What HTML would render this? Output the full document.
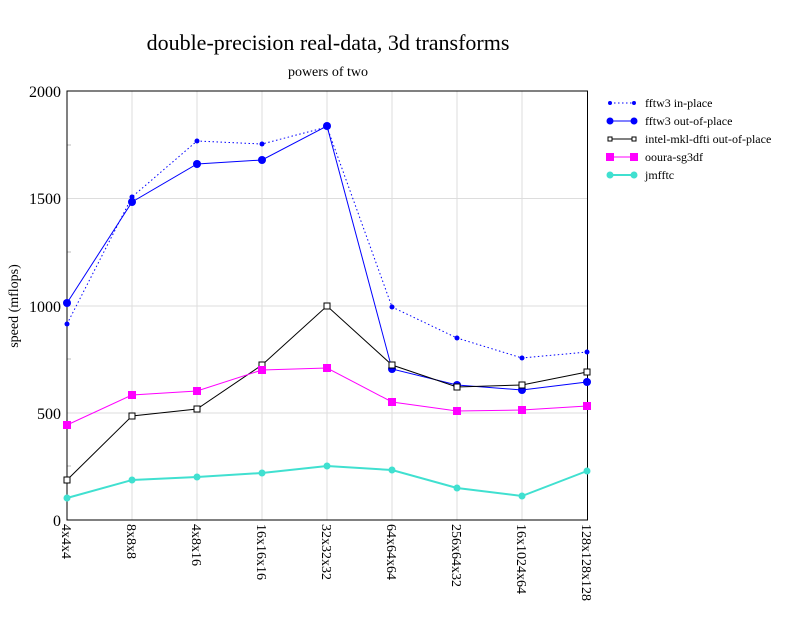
<!DOCTYPE html>
<html><head><style>body{margin:0;background:#fff}</style></head><body>
<svg width="792" height="612" xmlns="http://www.w3.org/2000/svg" font-family="Liberation Serif, serif">
<rect width="792" height="612" fill="#fff"/>
<text x="328" y="50" font-size="22" text-anchor="middle">double-precision real-data, 3d transforms</text>
<text x="328" y="76" font-size="14" text-anchor="middle">powers of two</text>
<g stroke="#ddd" stroke-width="1">
<line x1="67" y1="198.5" x2="587" y2="198.5"/><line x1="67" y1="306" x2="587" y2="306"/><line x1="67" y1="413" x2="587" y2="413"/>
<line x1="132" y1="91" x2="132" y2="520"/><line x1="197" y1="91" x2="197" y2="520"/><line x1="262" y1="91" x2="262" y2="520"/><line x1="327" y1="91" x2="327" y2="520"/><line x1="392" y1="91" x2="392" y2="520"/><line x1="457" y1="91" x2="457" y2="520"/><line x1="522" y1="91" x2="522" y2="520"/>
</g>
<g stroke="#bbb"><line x1="67" y1="145" x2="71" y2="145"/><line x1="67" y1="252" x2="71" y2="252"/><line x1="67" y1="359" x2="71" y2="359"/><line x1="67" y1="466" x2="71" y2="466"/></g>
<rect x="67" y="91" width="520.5" height="429" fill="none" stroke="#000" stroke-width="1"/>
<g font-size="16" text-anchor="end"><text x="61" y="97">2000</text><text x="61" y="204">1500</text><text x="61" y="312">1000</text><text x="61" y="419">500</text><text x="61" y="526">0</text></g>
<text transform="translate(18,306) rotate(-90)" font-size="14" text-anchor="middle">speed (mflops)</text>
<g font-size="14">
<text transform="translate(62,524) rotate(90)">4x4x4</text>
<text transform="translate(127,524) rotate(90)">8x8x8</text>
<text transform="translate(192,524) rotate(90)">4x8x16</text>
<text transform="translate(257,524) rotate(90)">16x16x16</text>
<text transform="translate(322,524) rotate(90)">32x32x32</text>
<text transform="translate(387,524) rotate(90)">64x64x64</text>
<text transform="translate(452,524) rotate(90)">256x64x32</text>
<text transform="translate(517,524) rotate(90)">16x1024x64</text>
<text transform="translate(582,524) rotate(90)">128x128x128</text>
</g>
<polyline fill="none" stroke="#0000ff" stroke-dasharray="1.5,2.5" points="67,324 132,197 197,141 262,144 327,127 392,307 457,338 522,358 587,352"/>
<g fill="#0000ff"><circle cx="67" cy="324" r="2.5"/><circle cx="132" cy="197" r="2.5"/><circle cx="197" cy="141" r="2.5"/><circle cx="262" cy="144" r="2.5"/><circle cx="327" cy="127" r="2.5"/><circle cx="392" cy="307" r="2.5"/><circle cx="457" cy="338" r="2.5"/><circle cx="522" cy="358" r="2.5"/><circle cx="587" cy="352" r="2.5"/></g>
<polyline fill="none" stroke="#0000ff" points="67,303 132,202 197,164 262,160 327,126 392,369 457,385 522,390 587,382"/>
<g fill="#0000ff"><circle cx="67" cy="303" r="4"/><circle cx="132" cy="202" r="4"/><circle cx="197" cy="164" r="4"/><circle cx="262" cy="160" r="4"/><circle cx="327" cy="126" r="4"/><circle cx="392" cy="369" r="4"/><circle cx="457" cy="385" r="4"/><circle cx="522" cy="390" r="4"/><circle cx="587" cy="382" r="4"/></g>
<polyline fill="none" stroke="#000" points="67,480 132,416 197,409 262,365 327,306 392,365 457,387 522,385 587,372"/>
<g fill="#fff" stroke="#000"><rect x="64" y="477" width="6" height="6"/><rect x="129" y="413" width="6" height="6"/><rect x="194" y="406" width="6" height="6"/><rect x="259" y="362" width="6" height="6"/><rect x="324" y="303" width="6" height="6"/><rect x="389" y="362" width="6" height="6"/><rect x="454" y="384" width="6" height="6"/><rect x="519" y="382" width="6" height="6"/><rect x="584" y="369" width="6" height="6"/></g>
<polyline fill="none" stroke="#ff00ff" points="67,425 132,395 197,391 262,370 327,368 392,402 457,411 522,410 587,406"/>
<g fill="#ff00ff"><rect x="63" y="421" width="8" height="8"/><rect x="128" y="391" width="8" height="8"/><rect x="193" y="387" width="8" height="8"/><rect x="258" y="366" width="8" height="8"/><rect x="323" y="364" width="8" height="8"/><rect x="388" y="398" width="8" height="8"/><rect x="453" y="407" width="8" height="8"/><rect x="518" y="406" width="8" height="8"/><rect x="583" y="402" width="8" height="8"/></g>
<polyline fill="none" stroke="#40e0d0" stroke-width="2" points="67,498 132,480 197,477 262,473 327,466 392,470 457,488 522,496 587,471"/>
<g fill="#40e0d0"><circle cx="67" cy="498" r="3.5"/><circle cx="132" cy="480" r="3.5"/><circle cx="197" cy="477" r="3.5"/><circle cx="262" cy="473" r="3.5"/><circle cx="327" cy="466" r="3.5"/><circle cx="392" cy="470" r="3.5"/><circle cx="457" cy="488" r="3.5"/><circle cx="522" cy="496" r="3.5"/><circle cx="587" cy="471" r="3.5"/></g>
<g font-size="12">
<line x1="610" y1="103" x2="634" y2="103" stroke="#0000ff" stroke-dasharray="1.5,2.5"/><circle cx="634" cy="103" r="2" fill="#0000ff"/><circle cx="610" cy="103" r="2" fill="#0000ff"/>
<text x="645" y="107">fftw3 in-place</text>
<line x1="610" y1="121" x2="634" y2="121" stroke="#0000ff"/><circle cx="610" cy="121" r="3.5" fill="#0000ff"/><circle cx="634" cy="121" r="3.5" fill="#0000ff"/>
<text x="645" y="125">fftw3 out-of-place</text>
<line x1="610" y1="139" x2="634" y2="139" stroke="#000"/><rect x="608" y="137" width="4" height="4" fill="#fff" stroke="#000"/><rect x="632" y="137" width="4" height="4" fill="#fff" stroke="#000"/>
<text x="645" y="143">intel-mkl-dfti out-of-place</text>
<line x1="610" y1="157" x2="634" y2="157" stroke="#ff00ff"/><rect x="606" y="153" width="8" height="8" fill="#ff00ff"/><rect x="630" y="153" width="8" height="8" fill="#ff00ff"/>
<text x="645" y="161">ooura-sg3df</text>
<line x1="610" y1="175" x2="634" y2="175" stroke="#40e0d0" stroke-width="2"/><circle cx="610" cy="175" r="3.5" fill="#40e0d0"/><circle cx="634" cy="175" r="3.5" fill="#40e0d0"/>
<text x="645" y="179">jmfftc</text>
</g>
</svg>
</body></html>
